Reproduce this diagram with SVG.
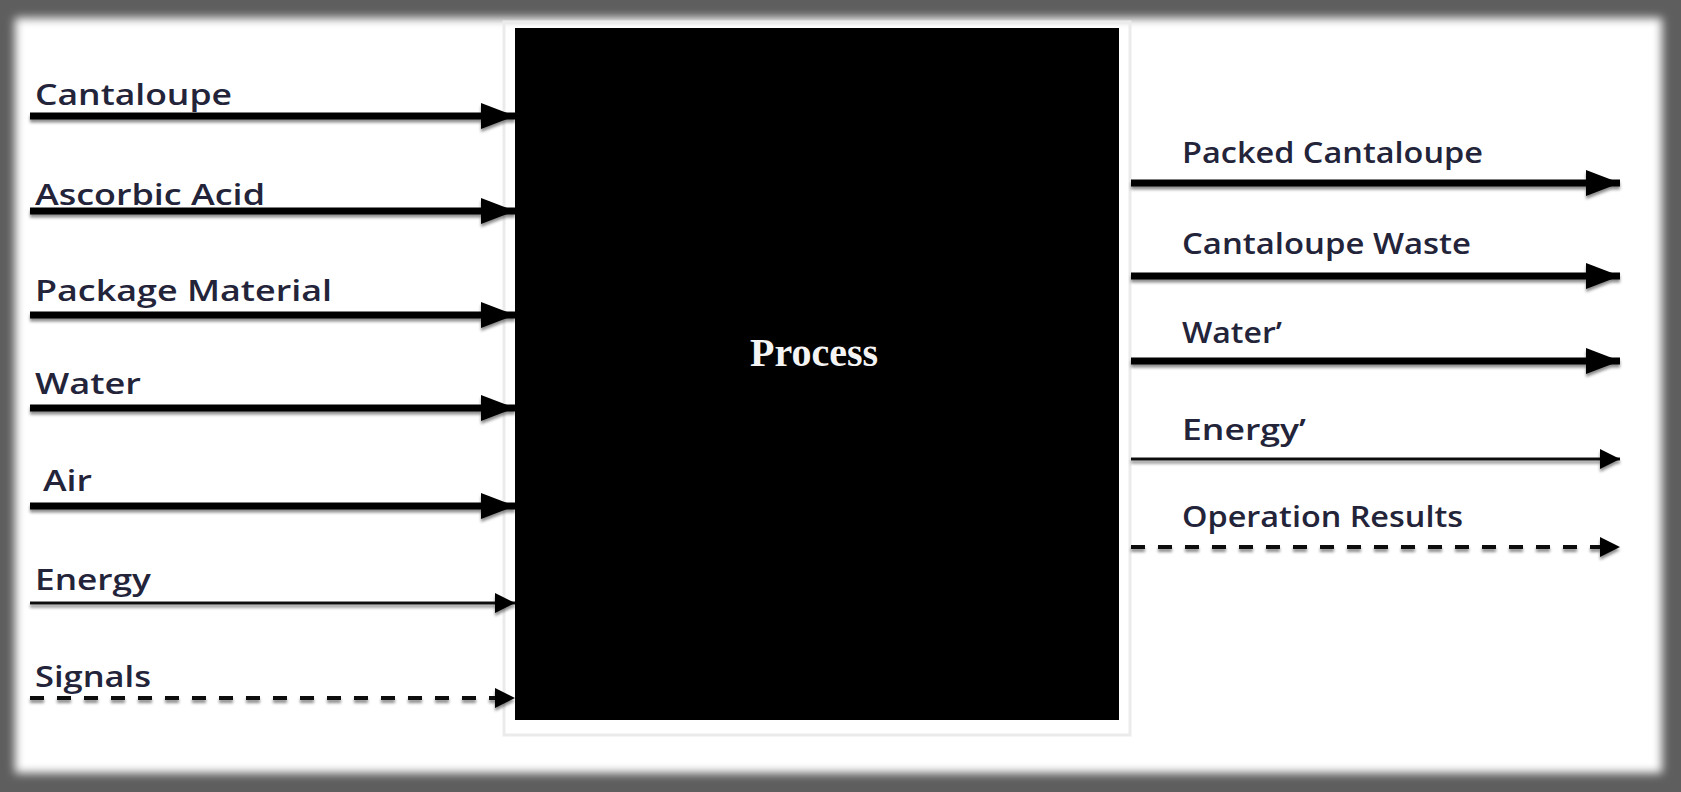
<svg xmlns="http://www.w3.org/2000/svg" width="1681" height="792" viewBox="0 0 1681 792">
  <style>
    .lbl { font-family: "Open Sans", "Liberation Sans", sans-serif; font-size: 29px; font-weight: 600; fill: #23243a; }
    .thick { stroke: #000; stroke-width: 7; fill: none; }
    .thin { stroke: #111; stroke-width: 3; fill: none; }
    .dash { stroke: #111; stroke-width: 4; fill: none; stroke-dasharray: 14 13; }
  </style>
  <defs>
    <filter id="blurFrame" x="-5%" y="-5%" width="110%" height="110%">
      <feGaussianBlur stdDeviation="5"/>
    </filter>
    <filter id="shadow" x="-5%" y="-50%" width="110%" height="200%">
      <feDropShadow dx="0" dy="3" stdDeviation="1.5" flood-color="#000" flood-opacity="0.45"/>
    </filter>
    <marker id="headBig" markerUnits="userSpaceOnUse" markerWidth="36" markerHeight="28" refX="34" refY="13" orient="auto" viewBox="0 0 36 28">
      <path d="M0,0 L34,13 L0,26 Z" fill="#000"/>
    </marker>
    <marker id="headSmall" markerUnits="userSpaceOnUse" markerWidth="22" markerHeight="22" refX="20" refY="10" orient="auto" viewBox="0 0 22 22">
      <path d="M0,0 L20,10 L0,20 Z" fill="#000"/>
    </marker>
  </defs>

  <!-- frame -->
  <rect x="0" y="0" width="1681" height="792" fill="#5e5e5e"/>
  <rect x="15" y="18" width="1647" height="755" fill="#ffffff" filter="url(#blurFrame)"/>

  <!-- process node -->
  <g id="process">
    <rect x="504" y="22" width="626" height="713" fill="none" stroke="#ebebeb" stroke-width="3"/>
    <rect x="515" y="28" width="604" height="692" fill="#000"/>
    <text x="814" y="366" text-anchor="middle" font-family="'Liberation Serif', 'DejaVu Serif', serif" font-weight="bold" font-size="40" fill="#f4f4f4" textLength="128" lengthAdjust="spacingAndGlyphs">Process</text>
  </g>

  <!-- connectors -->
  <g id="connectors" filter="url(#shadow)">
    <line id="c-cantaloupe" class="thick" x1="30" y1="116" x2="515" y2="116" marker-end="url(#headBig)"/>
    <line id="c-ascorbic" class="thick" x1="30" y1="211" x2="515" y2="211" marker-end="url(#headBig)"/>
    <line id="c-package" class="thick" x1="30" y1="315" x2="515" y2="315" marker-end="url(#headBig)"/>
    <line id="c-water" class="thick" x1="30" y1="408" x2="515" y2="408" marker-end="url(#headBig)"/>
    <line id="c-air" class="thick" x1="30" y1="506" x2="515" y2="506" marker-end="url(#headBig)"/>
    <line id="c-energy" class="thin" x1="30" y1="603" x2="515" y2="603" marker-end="url(#headSmall)"/>
    <line id="c-signals" class="dash" x1="30" y1="698" x2="497" y2="698"/>
    <line x1="495" y1="698" x2="515" y2="698" stroke="none" marker-end="url(#headSmall)"/>

    <line id="c-packed" class="thick" x1="1131" y1="183" x2="1620" y2="183" marker-end="url(#headBig)"/>
    <line id="c-waste" class="thick" x1="1131" y1="276" x2="1620" y2="276" marker-end="url(#headBig)"/>
    <line id="c-water2" class="thick" x1="1131" y1="361" x2="1620" y2="361" marker-end="url(#headBig)"/>
    <line id="c-energy2" class="thin" x1="1131" y1="459" x2="1620" y2="459" marker-end="url(#headSmall)"/>
    <line id="c-results" class="dash" x1="1131" y1="547" x2="1602" y2="547"/>
    <line x1="1600" y1="547" x2="1620" y2="547" stroke="none" marker-end="url(#headSmall)"/>
  </g>

  <!-- input labels -->
  <g id="in-cantaloupe"><text class="lbl" x="35" y="105" textLength="197" lengthAdjust="spacingAndGlyphs">Cantaloupe</text></g>
  <g id="in-ascorbic"><text class="lbl" x="35" y="205" textLength="230" lengthAdjust="spacingAndGlyphs">Ascorbic Acid</text></g>
  <g id="in-package"><text class="lbl" x="35" y="301" textLength="297" lengthAdjust="spacingAndGlyphs">Package Material</text></g>
  <g id="in-water"><text class="lbl" x="35" y="394" textLength="106" lengthAdjust="spacingAndGlyphs">Water</text></g>
  <g id="in-air"><text class="lbl" x="43" y="491" textLength="49" lengthAdjust="spacingAndGlyphs">Air</text></g>
  <g id="in-energy"><text class="lbl" x="35" y="590" textLength="116" lengthAdjust="spacingAndGlyphs">Energy</text></g>
  <g id="in-signals"><text class="lbl" x="35" y="687" textLength="116" lengthAdjust="spacingAndGlyphs">Signals</text></g>

  <!-- output labels -->
  <g id="out-packed"><text class="lbl" x="1182" y="163" textLength="301" lengthAdjust="spacingAndGlyphs">Packed Cantaloupe</text></g>
  <g id="out-waste"><text class="lbl" x="1182" y="254" textLength="289" lengthAdjust="spacingAndGlyphs">Cantaloupe Waste</text></g>
  <g id="out-water"><text class="lbl" x="1182" y="343" textLength="100" lengthAdjust="spacingAndGlyphs">Water’</text></g>
  <g id="out-energy"><text class="lbl" x="1182" y="440" textLength="124" lengthAdjust="spacingAndGlyphs">Energy’</text></g>
  <g id="out-results"><text class="lbl" x="1182" y="527" textLength="281" lengthAdjust="spacingAndGlyphs">Operation Results</text></g>
</svg>
